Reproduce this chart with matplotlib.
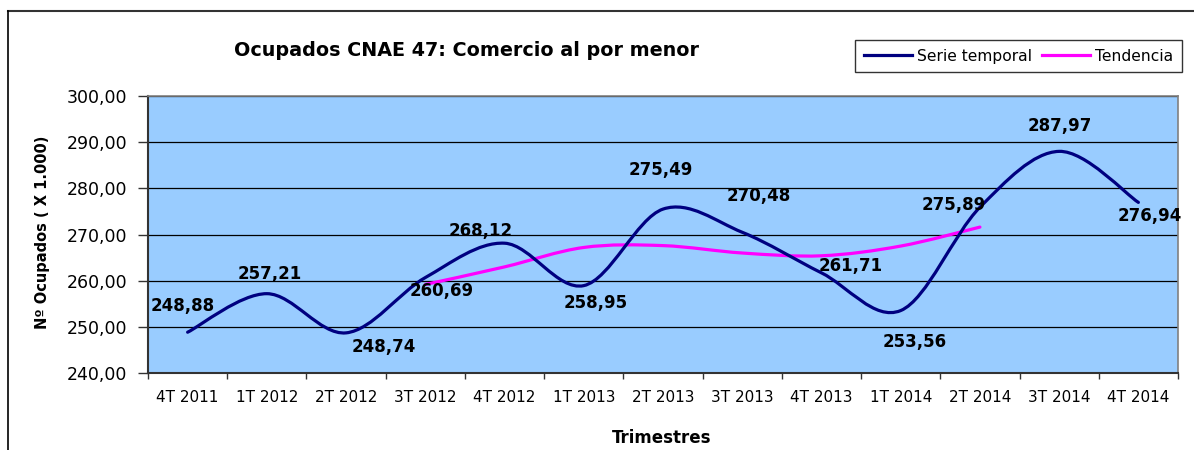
import matplotlib
matplotlib.use("Agg")
import matplotlib.pyplot as plt
from matplotlib.path import Path
from matplotlib.patches import PathPatch
from matplotlib.lines import Line2D
import numpy as np

# ---------------- data ----------------
categories = ["4T 2011", "1T 2012", "2T 2012", "3T 2012", "4T 2012", "1T 2013",
              "2T 2013", "3T 2013", "4T 2013", "1T 2014", "2T 2014", "3T 2014", "4T 2014"]
serie_temporal = [248.88, 257.21, 248.74, 260.69, 268.12, 258.95,
                  275.49, 270.48, 261.71, 253.56, 275.89, 287.97, 276.94]
tendencia_start = 3   # first category of the trend (3T 2012)
tendencia = [259.2, 263.0, 267.2, 267.6, 266.0, 265.4, 267.5, 271.6]
yticks = [240, 250, 260, 270, 280, 290, 300]

# label offsets (pixels) for data labels
label_offsets = [(-5, 26), (3, 20), (38, -14), (16, -13), (-24, 12), (12, -17),
                 (-2, 39), (17, 36), (29, 7), (14, -31), (-26, 2), (1, 25), (11, -14)]

W, H = 1194, 450
fig = plt.figure(figsize=(W / 100, H / 100), dpi=100)
fig.patch.set_facecolor("white")

L, R, T, B = 148, 1178, 95.7, 373.3
ax = fig.add_axes([L / W, 1 - B / H, (R - L) / W, (B - T) / H])
ax.set_facecolor("#99CCFF")


def smooth_path(xs, ys):
    pts = np.column_stack([xs, ys]).astype(float)
    n = len(pts)
    verts = [pts[0]]
    codes = [Path.MOVETO]
    for i in range(n - 1):
        p0 = pts[i - 1] if i > 0 else pts[i]
        p1 = pts[i]
        p2 = pts[i + 1]
        p3 = pts[i + 2] if i + 2 < n else pts[i + 1]
        c1 = p1 + (p2 - p0) / 6.0
        c2 = p2 - (p3 - p1) / 6.0
        verts += [c1, c2, p2]
        codes += [Path.CURVE4] * 3
    return Path(verts, codes)


x_serie = np.arange(len(serie_temporal))
x_trend = np.arange(tendencia_start, tendencia_start + len(tendencia))

navy = "#000080"
pink = "#FF00FF"

ax.add_patch(PathPatch(smooth_path(x_serie, serie_temporal), facecolor="none",
                       edgecolor=navy, lw=2.3, zorder=4, capstyle="round", joinstyle="round"))
ax.add_patch(PathPatch(smooth_path(x_trend, tendencia), facecolor="none",
                       edgecolor=pink, lw=2.3, zorder=3, capstyle="round", joinstyle="round"))

for xi, v, (dx, dy) in zip(x_serie, serie_temporal, label_offsets):
    ax.annotate(f"{v:.2f}".replace(".", ","), (xi, v), xytext=(dx, dy),
                textcoords="offset pixels", ha="center", va="center",
                fontsize=12, fontweight="bold", family="DejaVu Sans", color="black",
                zorder=6)

ax.set_xlim(-0.5, len(categories) - 0.5)
ax.set_ylim(240, 300)
ax.set_yticks(yticks)
ax.set_yticklabels([f"{t:.2f}".replace(".", ",") for t in yticks], fontsize=12.5)
ax.yaxis.grid(True, color="black", lw=0.9)
ax.set_axisbelow(True)

ax.set_xticks(x_serie)
ax.set_xticklabels(categories, fontsize=11)
ax.set_xticks(np.arange(-0.5, len(categories)), minor=True)
ax.tick_params(axis="x", which="major", length=0, pad=12)
ax.tick_params(axis="x", which="minor", length=4, width=1, color="#333333")
ax.tick_params(axis="y", which="major", length=7, width=1, color="#333333", pad=8)

for s in ["top", "right"]:
    ax.spines[s].set_color("#808080")
    ax.spines[s].set_linewidth(1.2)
for s in ["left", "bottom"]:
    ax.spines[s].set_color("#333333")
    ax.spines[s].set_linewidth(1.5)

fig.text(43 / W, 1 - 232 / H, "Nº Ocupados ( X 1.000)", rotation=90, ha="center",
         va="center", fontsize=10.5, fontweight="bold")
fig.text(662 / W, 1 - 438 / H, "Trimestres", ha="center", va="center",
         fontsize=12, fontweight="bold")
fig.text(466 / W, 1 - 50 / H, "Ocupados CNAE 47: Comercio al por menor", ha="center",
         va="center", fontsize=13.8, fontweight="bold")

handles = [Line2D([], [], color=navy, lw=2.3), Line2D([], [], color=pink, lw=2.3)]
leg = fig.legend(handles, ["Serie temporal", "Tendencia"], ncol=2,
                 loc="upper left", bbox_to_anchor=(855 / W, 1 - 40 / H),
                 fontsize=11.2, frameon=True, fancybox=False, edgecolor="black",
                 handlelength=3.1, handletextpad=0.35, columnspacing=0.6,
                 borderpad=0.55, borderaxespad=0)
leg.get_frame().set_linewidth(1.0)

# outer chart frame (partially visible)
fig.add_artist(Line2D([8 / W, 1.0], [1 - 11 / H, 1 - 11 / H], color="#333333", lw=1.5))
fig.add_artist(Line2D([8 / W, 8 / W], [1 - 11 / H, 0.0], color="black", lw=1.2))

fig.savefig("out.png", dpi=100)
